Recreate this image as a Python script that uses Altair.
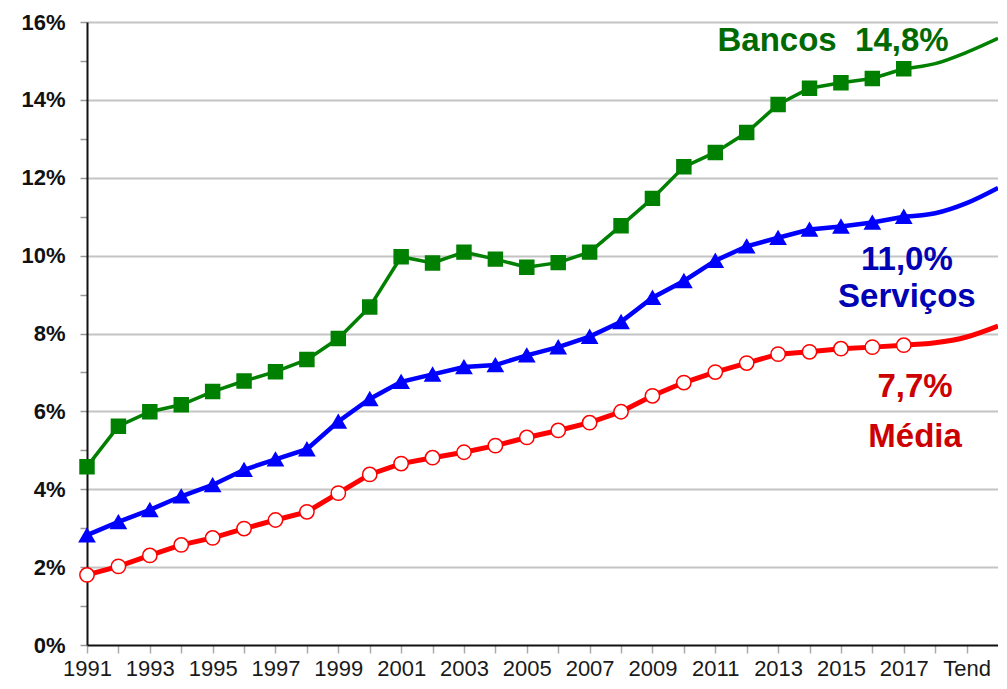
import altair as alt
import pandas as pd

years = list(range(1991, 2018))
bancos = [4.58, 5.62, 5.99, 6.17, 6.51, 6.78, 7.02, 7.33, 7.87, 8.68, 9.97, 9.81, 10.09, 9.91,
          9.70, 9.82, 10.09, 10.77, 11.47, 12.28, 12.65, 13.16, 13.88, 14.30, 14.44, 14.55, 14.8]
servicos = [2.82, 3.16, 3.47, 3.82, 4.11, 4.50, 4.77, 5.03, 5.74, 6.32, 6.76, 6.95, 7.14, 7.19,
            7.44, 7.65, 7.92, 8.30, 8.92, 9.35, 9.87, 10.24, 10.46, 10.67, 10.75, 10.85, 11.0]
media = [1.80, 2.02, 2.30, 2.57, 2.75, 2.99, 3.21, 3.42, 3.90, 4.38, 4.66, 4.81, 4.95, 5.12,
         5.33, 5.51, 5.71, 5.99, 6.40, 6.74, 7.01, 7.24, 7.47, 7.53, 7.61, 7.65, 7.7]

trend_years = [2017, 2018, 2019, 2020]
bancos_tend = [14.8, 14.93, 15.22, 15.58]
servicos_tend = [11.0, 11.09, 11.35, 11.74]
media_tend = [7.7, 7.76, 7.91, 8.19]

x_ticks = list(range(1991, 2020))
y_ticks = list(range(0, 17))

FONT = "Liberation Sans, Arial"

x_scale = alt.Scale(domain=[1991, 2020], nice=False, zero=False)
y_scale = alt.Scale(domain=[0, 16], nice=False)

x_axis = alt.Axis(
    values=x_ticks, title=None,
    labelExpr="datum.value == 2019 ? 'Tend' : (datum.value % 2 == 1 ? '' + datum.value : '')",
    labelFont=FONT, labelFontSize=22, labelColor="#1a1a1a", labelOverlap=False,
    labelFlush=False, labelPadding=5, tickSize=8, tickColor="#aaaaaa", tickWidth=1.5,
    domainColor="#111111", domainWidth=2, grid=False,
)
y_axis = alt.Axis(
    values=y_ticks, title=None,
    labelExpr="datum.value % 2 == 0 ? datum.value + '%' : ''",
    labelFont=FONT, labelFontSize=22, labelFontWeight="bold", labelColor="#111111",
    labelPadding=15, tickSize=7, tickColor="#999999", tickWidth=1.5,
    domainColor="#111111", domainWidth=2,
    grid=True, gridColor="#c4c4c4", gridWidth=2,
    gridOpacity={"condition": {"test": "datum.value % 2 == 0 && datum.value > 0", "value": 1}, "value": 0},
)

enc_x = alt.X("ano:Q", scale=x_scale, axis=x_axis)
enc_y = alt.Y("valor:Q", scale=y_scale, axis=y_axis)

series = [
    ("Bancos", bancos, bancos_tend, "#008000", 3.5, "square", "#008000", "#008000", 195),
    ("Serviços", servicos, servicos_tend, "#0000ff", 4.5, "triangle-up", "#0000ff", "#0000ff", 230),
    ("Média", media, media_tend, "#ff0000", 5, "circle", "#ffffff", "#ff0000", 205),
]

layers = []
for name, vals, tend, color, sw, shape, fill, stroke, size in series:
    hist = pd.DataFrame({"ano": years, "valor": vals})
    tr = pd.DataFrame({"ano": trend_years, "valor": tend})
    layers.append(alt.Chart(tr).mark_line(color=color, strokeWidth=sw, interpolate="monotone")
                  .encode(x=enc_x, y=enc_y))
    layers.append(alt.Chart(hist).mark_line(color=color, strokeWidth=sw)
                  .encode(x=enc_x, y=enc_y))
    layers.append(alt.Chart(hist).mark_point(shape=shape, filled=True, fill=fill, stroke=stroke,
                                             strokeWidth=1.5, size=size, opacity=1)
                  .encode(x=enc_x, y=enc_y))

def pct(v):
    return f"{v:.1f}".replace(".", ",") + "%"

ann = pd.DataFrame({
    "texto": [f"Bancos\u00a0\u00a0{pct(bancos[-1])}", pct(servicos[-1]), "Serviços", pct(media[-1]), "Média"],
    "ano": [2014.75, 2017.1, 2017.1, 2017.36, 2017.36],
    "valor": [15.25, 9.63, 8.68, 6.37, 5.08],
    "cor": ["#006a00", "#0000b4", "#0000b4", "#cc0000", "#cc0000"],
})
layers.append(alt.Chart(ann).mark_text(font=FONT, fontSize=33, fontWeight="bold",
                                       align="center", baseline="alphabetic")
              .encode(x=enc_x, y=enc_y,
                      text="texto:N", color=alt.Color("cor:N", scale=None)))

chart = alt.layer(*layers).properties(
    width=911, height=623,
    autosize=alt.AutoSizeParams(type="none"),
    padding={"left": 79, "top": 14, "right": 0, "bottom": 36},
    background="white",
).configure_view(stroke=None)

chart.save("out.html", embed_options={"renderer": "svg", "actions": False})
